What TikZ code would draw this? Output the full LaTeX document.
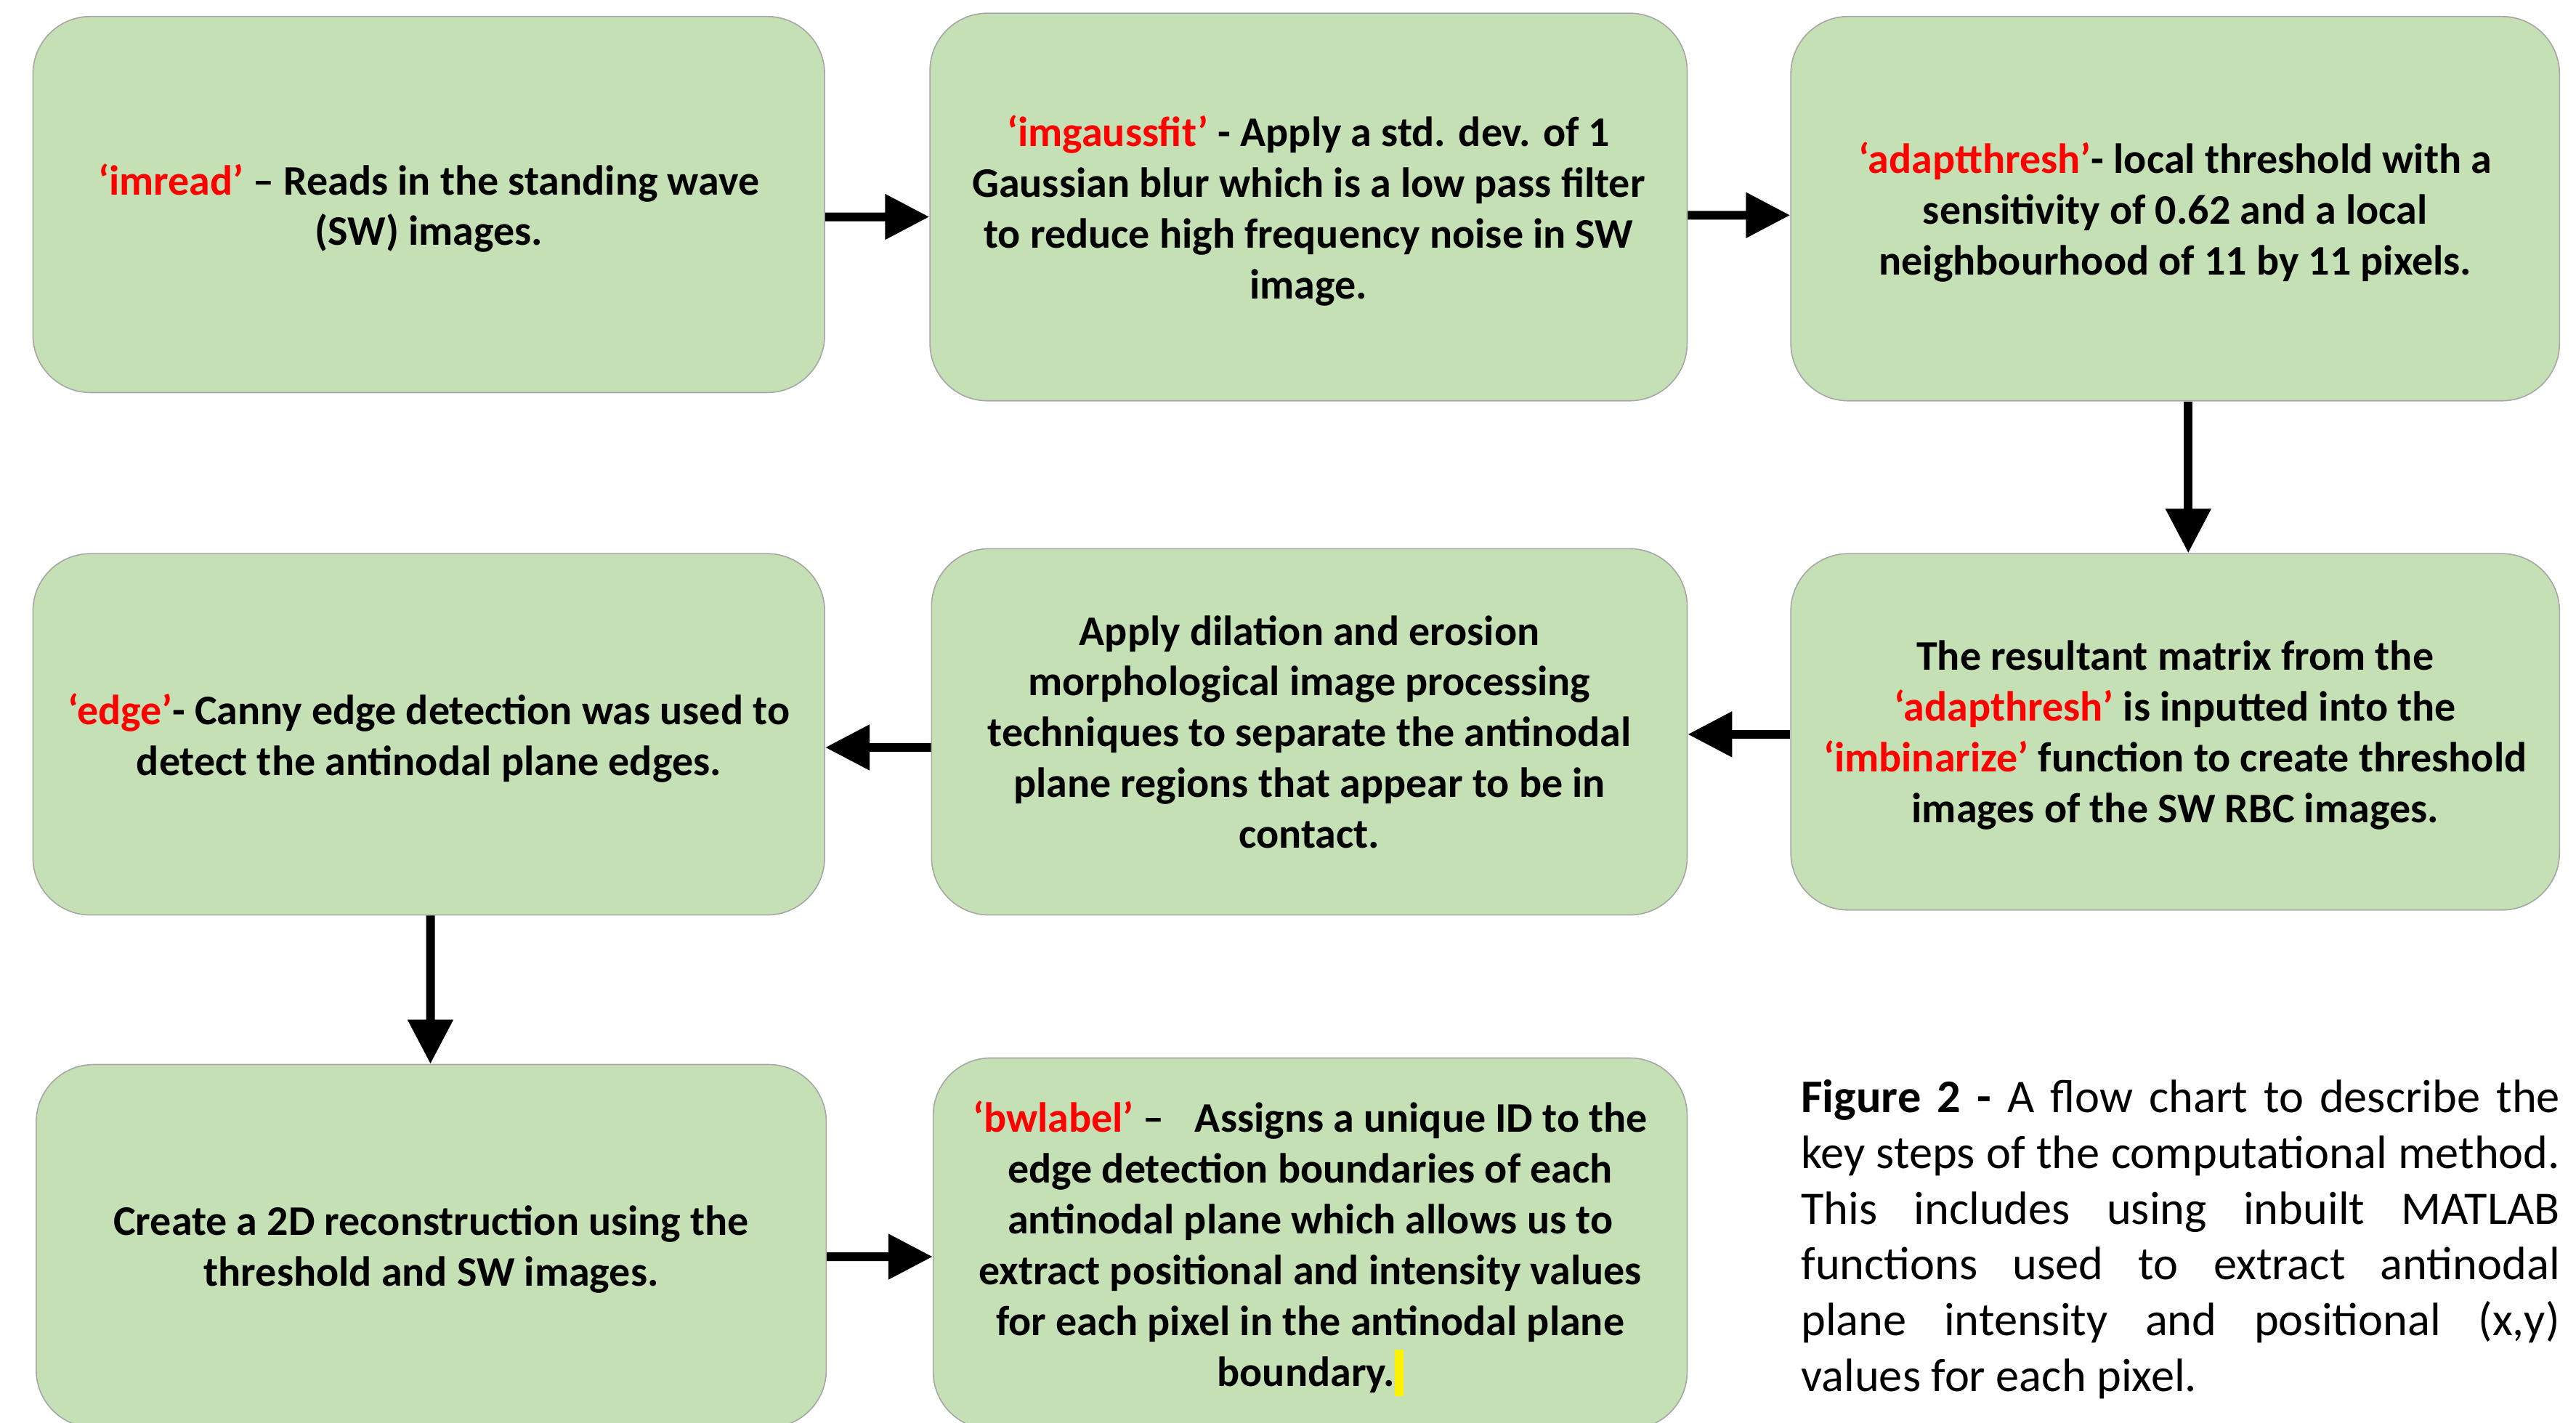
\documentclass[tikz,border=0pt]{standalone}
\usepackage{fontspec}
\setmainfont{Carlito}
\usetikzlibrary{arrows.meta}
\definecolor{box_green}{HTML}{C5E0B4}
\definecolor{box_edge}{HTML}{A6A6A6}
\newcommand{\fname}[1]{\textcolor{red}{#1}}
\tikzstyle{step_box} = [
    rectangle,
    rounded corners=0.7cm,
    draw=box_edge,
    line width=0.4pt,
    fill=box_green,
    align=center,
    inner sep=0pt,
    text depth=0pt, % centre on the lines, not on the descenders
    font=\bfseries\fontsize{14.6}{17.6}\selectfont
]
\tikzstyle{flow_arrow} = [
    -{Triangle[length=0.54cm, width=0.53cm]},
    line width=0.106cm,
    black
]
\tikzstyle{caption_text} = [
    anchor=north west,
    inner sep=0pt,
    text width=9.24cm,
    align=justify,
    font=\fontsize{16.2}{19.3}\selectfont
]

\begin{document}
\begin{tikzpicture}[x=0.02cm, y=-0.02cm]
\useasboundingbox (0,0) rectangle (1568,866);

% top row
\node [step_box, minimum width=9.64cm, minimum height=4.58cm] (imread) at (261,124.5)
    {\fname{‘imread’} – Reads in the standing wave\\(SW) images.};
\node [step_box, minimum width=9.22cm, minimum height=4.72cm] (gauss) at (796.5,126)
    {\fname{‘imgaussfit’} - Apply a std. dev. of 1\\Gaussian blur which is a low pass filter\\to reduce high frequency noise in SW\\image.};
\node [step_box, minimum width=9.36cm, minimum height=4.68cm] (thresh) at (1324,127)
    {\fname{‘adaptthresh’}- local threshold with a\\sensitivity of 0.62 and a local\\neighbourhood of 11 by 11 pixels.};

% middle row
\node [step_box, minimum width=9.36cm, minimum height=4.34cm] (binar) at (1324,445.5)
    {The resultant matrix from the\\\fname{‘adapthresh’} is inputted into the\\\fname{‘imbinarize’} function to create threshold\\images of the SW RBC images.};
\node [step_box, minimum width=9.20cm, minimum height=4.46cm] (morph) at (797,445.5)
    {Apply dilation and erosion\\morphological image processing\\techniques to separate the antinodal\\plane regions that appear to be in\\contact.};
\node [step_box, minimum width=9.64cm, minimum height=4.40cm] (edge) at (261,447)
    {\fname{‘edge’}- Canny edge detection was used to\\detect the antinodal plane edges.};

% bottom row
\node [step_box, minimum width=9.62cm, minimum height=4.42cm] (recon) at (262.5,758.5)
    {Create a 2D reconstruction using the\\threshold and SW images.};
\node [step_box, minimum width=9.18cm, minimum height=4.52cm] (bwlab) at (797.5,757)
    {\fname{‘bwlabel’} –\hspace{0.5em} Assigns a unique ID to the\\edge detection boundaries of each\\antinodal plane which allows us to\\extract positional and intensity values\\for each pixel in the antinodal plane\\boundary.\textcolor{yellow}{\rule[-0.12cm]{0.1cm}{0.56cm}}};

\node [caption_text] (caption) at (1096,657)
    {\textbf{Figure 2 -} A flow chart to describe the\linebreak
    key steps of the computational method.\linebreak
    This includes using inbuilt MATLAB\linebreak
    functions used to extract antinodal\linebreak
    plane intensity and positional (x,y)\linebreak
    values for each pixel.};

% connectors
\draw [flow_arrow] ([yshift=-0.15cm]imread.east) -- ([yshift=-0.12cm]gauss.west);
\draw [flow_arrow] ([yshift=-0.10cm]gauss.east) -- ([yshift=-0.08cm]thresh.west);
\draw [flow_arrow] ([xshift=0.16cm]thresh.south) -- ([xshift=0.16cm]binar.north);
\draw [flow_arrow] ([yshift=-0.03cm]binar.west) -- ([yshift=-0.03cm]morph.east);
\draw [flow_arrow] ([yshift=-0.19cm]morph.west) -- ([yshift=-0.16cm]edge.east);
\draw [flow_arrow] ([xshift=0.02cm]edge.south) -- ([xshift=-0.01cm]recon.north);
\draw [flow_arrow] ([yshift=-0.13cm]recon.east) -- ([yshift=-0.16cm]bwlab.west);
\end{tikzpicture}
\end{document}
